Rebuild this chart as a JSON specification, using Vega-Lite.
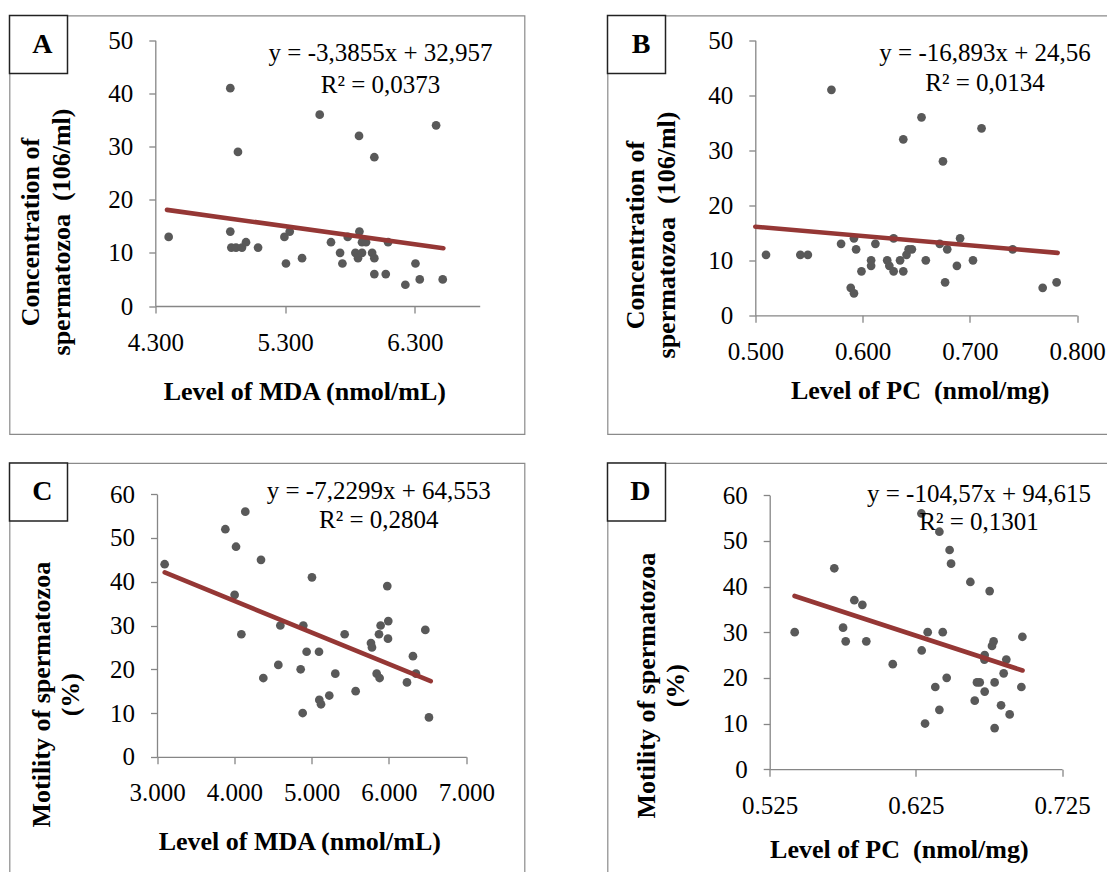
{
  "$schema": "https://vega.github.io/schema/vega-lite/v6.json",
  "padding": {"left": 7.5, "top": 13.5, "right": 0, "bottom": 0},
  "autosize": {"type": "pad"},
  "background": "white",
  "columns": 2,
  "spacing": {"row": 28.5, "column": 83},
  "bounds": "flush",
  "align": "each",
  "resolve": {"scale": {"shape": "independent", "x": "independent", "y": "independent"}, "legend": {"shape": "independent"}},
  "datasets": {
    "A_pts": [
      {"x": 4.403, "y": 13}, {"x": 4.878, "y": 41}, {"x": 4.937, "y": 29}, {"x": 4.878, "y": 14},
      {"x": 4.886, "y": 11}, {"x": 4.922, "y": 11}, {"x": 4.968, "y": 11}, {"x": 4.999, "y": 12},
      {"x": 5.092, "y": 11}, {"x": 5.295, "y": 13}, {"x": 5.307, "y": 8}, {"x": 5.336, "y": 14},
      {"x": 5.431, "y": 9}, {"x": 5.567, "y": 36}, {"x": 5.654, "y": 12}, {"x": 5.724, "y": 10},
      {"x": 5.742, "y": 8}, {"x": 5.783, "y": 13}, {"x": 5.870, "y": 32}, {"x": 5.873, "y": 14},
      {"x": 5.842, "y": 10}, {"x": 5.862, "y": 9}, {"x": 5.893, "y": 10}, {"x": 5.893, "y": 12},
      {"x": 5.924, "y": 12}, {"x": 5.988, "y": 28}, {"x": 5.971, "y": 10}, {"x": 5.988, "y": 9},
      {"x": 5.988, "y": 6}, {"x": 6.094, "y": 12}, {"x": 6.076, "y": 6}, {"x": 6.227, "y": 4},
      {"x": 6.305, "y": 8}, {"x": 6.338, "y": 5}, {"x": 6.464, "y": 34}, {"x": 6.515, "y": 5}
    ],
    "A_line": [{"x": 4.39, "y": 18.09}, {"x": 6.52, "y": 10.88}],
    "A_eq": [{"eq": "y = -3,3855x + 32,957\nR² = 0,0373"}],
    "A_lab": [{"panel": "A"}],
    "B_pts": [
      {"x": 0.510, "y": 11}, {"x": 0.542, "y": 11}, {"x": 0.549, "y": 11}, {"x": 0.571, "y": 41},
      {"x": 0.580, "y": 13}, {"x": 0.592, "y": 14}, {"x": 0.594, "y": 12}, {"x": 0.589, "y": 5},
      {"x": 0.592, "y": 4}, {"x": 0.599, "y": 8}, {"x": 0.608, "y": 10}, {"x": 0.608, "y": 9},
      {"x": 0.612, "y": 13}, {"x": 0.623, "y": 10}, {"x": 0.625, "y": 9}, {"x": 0.629, "y": 8},
      {"x": 0.629, "y": 14}, {"x": 0.635, "y": 10}, {"x": 0.638, "y": 32}, {"x": 0.638, "y": 8},
      {"x": 0.641, "y": 11}, {"x": 0.643, "y": 12}, {"x": 0.646, "y": 12}, {"x": 0.655, "y": 36},
      {"x": 0.659, "y": 10}, {"x": 0.672, "y": 13}, {"x": 0.675, "y": 28}, {"x": 0.677, "y": 6},
      {"x": 0.679, "y": 12}, {"x": 0.688, "y": 9}, {"x": 0.691, "y": 14}, {"x": 0.703, "y": 10},
      {"x": 0.711, "y": 34}, {"x": 0.740, "y": 12}, {"x": 0.768, "y": 5}, {"x": 0.781, "y": 6}
    ],
    "B_line": [{"x": 0.5, "y": 16.11}, {"x": 0.782, "y": 11.35}],
    "B_eq": [{"eq": "y = -16,893x + 24,56\nR² = 0,0134"}],
    "B_lab": [{"panel": "B"}],
    "C_pts": [
      {"x": 3.099, "y": 44}, {"x": 3.884, "y": 52}, {"x": 4.142, "y": 56}, {"x": 4.022, "y": 48},
      {"x": 4.345, "y": 45}, {"x": 4.004, "y": 37}, {"x": 4.091, "y": 28}, {"x": 4.595, "y": 30},
      {"x": 4.569, "y": 21}, {"x": 4.375, "y": 18}, {"x": 4.858, "y": 20}, {"x": 4.892, "y": 30},
      {"x": 4.884, "y": 10}, {"x": 4.935, "y": 24}, {"x": 5.004, "y": 41}, {"x": 5.095, "y": 24},
      {"x": 5.099, "y": 13}, {"x": 5.121, "y": 12}, {"x": 5.228, "y": 14}, {"x": 5.306, "y": 19},
      {"x": 5.427, "y": 28}, {"x": 5.569, "y": 15}, {"x": 5.767, "y": 26}, {"x": 5.780, "y": 25},
      {"x": 5.841, "y": 19}, {"x": 5.879, "y": 18}, {"x": 5.871, "y": 28}, {"x": 5.892, "y": 30},
      {"x": 5.991, "y": 31}, {"x": 5.978, "y": 39}, {"x": 5.987, "y": 27}, {"x": 6.233, "y": 17},
      {"x": 6.310, "y": 23}, {"x": 6.349, "y": 19}, {"x": 6.470, "y": 29}, {"x": 6.517, "y": 9}
    ],
    "C_line": [{"x": 3.1, "y": 42.14}, {"x": 6.54, "y": 17.27}],
    "C_eq": [{"eq": "y = -7,2299x + 64,553\nR² = 0,2804"}],
    "C_lab": [{"panel": "C"}],
    "D_pts": [
      {"x": 0.5421, "y": 30}, {"x": 0.5692, "y": 44}, {"x": 0.5752, "y": 31}, {"x": 0.5770, "y": 28},
      {"x": 0.5829, "y": 37}, {"x": 0.5884, "y": 36}, {"x": 0.5911, "y": 28}, {"x": 0.6092, "y": 23},
      {"x": 0.6288, "y": 56}, {"x": 0.6290, "y": 26}, {"x": 0.6331, "y": 30}, {"x": 0.6313, "y": 10},
      {"x": 0.6383, "y": 18}, {"x": 0.6411, "y": 52}, {"x": 0.6411, "y": 13}, {"x": 0.6434, "y": 30},
      {"x": 0.6461, "y": 20}, {"x": 0.6481, "y": 48}, {"x": 0.6491, "y": 45}, {"x": 0.6623, "y": 41},
      {"x": 0.6653, "y": 15}, {"x": 0.6668, "y": 19}, {"x": 0.6687, "y": 19}, {"x": 0.6721, "y": 25},
      {"x": 0.6719, "y": 24}, {"x": 0.6721, "y": 17}, {"x": 0.6755, "y": 39}, {"x": 0.6771, "y": 27},
      {"x": 0.6782, "y": 28}, {"x": 0.6789, "y": 19}, {"x": 0.6789, "y": 9}, {"x": 0.6833, "y": 14},
      {"x": 0.6851, "y": 21}, {"x": 0.6869, "y": 24}, {"x": 0.6892, "y": 12}, {"x": 0.6972, "y": 18},
      {"x": 0.6979, "y": 29}
    ],
    "D_line": [{"x": 0.542, "y": 37.94}, {"x": 0.698, "y": 21.62}],
    "D_eq": [{"eq": "y = -104,57x + 94,615\nR² = 0,1301"}],
    "D_lab": [{"panel": "D"}]
  },
  "concat": [
    {
      "width": 515, "height": 418.5,
      "view": {"stroke": "#8a8a8a", "strokeWidth": 1.2},
      "layer": [
        {
          "data": {"name": "A_pts"},
          "mark": {"type": "circle", "size": 76, "color": "#595959", "opacity": 1},
          "encoding": {
            "x": {"field": "x", "type": "quantitative", "title": "Level of MDA (nmol/mL)",
              "scale": {"domain": [4.3, 6.8], "range": [145.8, 470.2], "nice": false, "zero": false},
              "axis": {"values": [4.3, 5.3, 6.3], "format": ".3f", "offset": -128, "titleX": 294.8, "titleY": 93.3, "titleBaseline": "alphabetic", "titleAlign": "center"}},
            "y": {"field": "y", "type": "quantitative", "title": ["Concentration of", "spermatozoa\u00a0 (106/ml)"],
              "scale": {"domain": [0, 50], "range": [290.5, 24.8], "nice": false, "zero": false},
              "axis": {"values": [0, 10, 20, 30, 40, 50], "format": "d", "offset": -145.8, "titleX": -117.3, "titleY": 216, "titleBaseline": "alphabetic", "titleAlign": "center", "titleLineHeight": 31}}
          }
        },
        {
          "data": {"name": "A_line"},
          "mark": {"type": "line", "color": "#953735", "strokeWidth": 4.6, "strokeCap": "round"},
          "encoding": {
            "x": {"field": "x", "type": "quantitative", "title": "Level of MDA (nmol/mL)"},
            "y": {"field": "y", "type": "quantitative", "title": ["Concentration of", "spermatozoa\u00a0 (106/ml)"]}
          }
        },
        {
          "data": {"name": "A_eq"},
          "mark": {"type": "text", "align": "center", "baseline": "alphabetic", "lineBreak": "\n", "lineHeight": 31.5, "fontSize": 25, "color": "#000"},
          "encoding": {
            "text": {"field": "eq", "type": "nominal"},
            "x": {"datum": 6.036, "type": "quantitative", "title": "Level of MDA (nmol/mL)"},
            "y": {"datum": 46.05, "type": "quantitative", "title": ["Concentration of", "spermatozoa\u00a0 (106/ml)"]}
          }
        },
        {
          "data": {"name": "A_lab"},
          "mark": {"type": "point", "opacity": 0, "size": 0},
          "encoding": {
            "shape": {"field": "panel", "type": "nominal", "legend": {"orient": "top-left", "offset": 0, "title": null, "padding": 15, "symbolSize": 0, "symbolStrokeWidth": 0, "symbolOpacity": 0, "labelOffset": 0, "labelAlign": "right"}}
          }
        }
      ]
    },
    {
      "width": 500, "height": 418.5,
      "view": {"stroke": "#8a8a8a", "strokeWidth": 1.2, "strokeDash": [500, 418.5, 918.5, 0]},
      "layer": [
        {
          "data": {"name": "B_pts"},
          "mark": {"type": "circle", "size": 76, "color": "#595959", "opacity": 1},
          "encoding": {
            "x": {"field": "x", "type": "quantitative", "title": "Level of PC\u00a0 (nmol/mg)",
              "scale": {"domain": [0.5, 0.8], "range": [147.8, 469.5], "nice": false, "zero": false},
              "axis": {"values": [0.5, 0.6, 0.7, 0.8], "format": ".3f", "offset": -118.7, "titleX": 312.2, "titleY": 83.4, "titleBaseline": "alphabetic", "titleAlign": "center"}},
            "y": {"field": "y", "type": "quantitative", "title": ["Concentration of", "spermatozoa\u00a0 (106/ml)"],
              "scale": {"domain": [0, 50], "range": [299.8, 24.8], "nice": false, "zero": false},
              "axis": {"values": [0, 10, 20, 30, 40, 50], "format": "d", "offset": -147.8, "titleX": -112.3, "titleY": 219, "titleBaseline": "alphabetic", "titleAlign": "center", "titleLineHeight": 31}}
          }
        },
        {
          "data": {"name": "B_line"},
          "mark": {"type": "line", "color": "#953735", "strokeWidth": 4.6, "strokeCap": "round"},
          "encoding": {
            "x": {"field": "x", "type": "quantitative", "title": "Level of PC\u00a0 (nmol/mg)"},
            "y": {"field": "y", "type": "quantitative", "title": ["Concentration of", "spermatozoa\u00a0 (106/ml)"]}
          }
        },
        {
          "data": {"name": "B_eq"},
          "mark": {"type": "text", "align": "center", "baseline": "alphabetic", "lineBreak": "\n", "lineHeight": 29.5, "fontSize": 25, "color": "#000"},
          "encoding": {
            "text": {"field": "eq", "type": "nominal"},
            "x": {"datum": 0.7143, "type": "quantitative", "title": "Level of PC\u00a0 (nmol/mg)"},
            "y": {"datum": 46.15, "type": "quantitative", "title": ["Concentration of", "spermatozoa\u00a0 (106/ml)"]}
          }
        },
        {
          "data": {"name": "B_lab"},
          "mark": {"type": "point", "opacity": 0, "size": 0},
          "encoding": {
            "shape": {"field": "panel", "type": "nominal", "legend": {"orient": "top-left", "offset": 0, "title": null, "padding": 15, "symbolSize": 0, "symbolStrokeWidth": 0, "symbolOpacity": 0, "labelOffset": 0, "labelAlign": "right"}}
          }
        }
      ]
    },
    {
      "width": 515, "height": 410,
      "view": {"stroke": "#8a8a8a", "strokeWidth": 1.2, "strokeDash": [925, 515, 410, 0]},
      "layer": [
        {
          "data": {"name": "C_pts"},
          "mark": {"type": "circle", "size": 76, "color": "#595959", "opacity": 1},
          "encoding": {
            "x": {"field": "x", "type": "quantitative", "title": "Level of MDA (nmol/mL)",
              "scale": {"domain": [3, 7], "range": [147.5, 456.8], "nice": false, "zero": false},
              "axis": {"values": [3, 4, 5, 6, 7], "format": ".3f", "offset": -116.2, "titleX": 289.8, "titleY": 92.4, "titleBaseline": "alphabetic", "titleAlign": "center"}},
            "y": {"field": "y", "type": "quantitative", "title": ["Motility of spermatozoa", "(%)"],
              "scale": {"domain": [0, 60], "range": [293.8, 31.2], "nice": false, "zero": false},
              "axis": {"values": [0, 10, 20, 30, 40, 50, 60], "format": "d", "offset": -147.5, "titleX": -108, "titleY": 231.2, "titleBaseline": "alphabetic", "titleAlign": "center", "titleLineHeight": 29}}
          }
        },
        {
          "data": {"name": "C_line"},
          "mark": {"type": "line", "color": "#953735", "strokeWidth": 4.6, "strokeCap": "round"},
          "encoding": {
            "x": {"field": "x", "type": "quantitative", "title": "Level of MDA (nmol/mL)"},
            "y": {"field": "y", "type": "quantitative", "title": ["Motility of spermatozoa", "(%)"]}
          }
        },
        {
          "data": {"name": "C_eq"},
          "mark": {"type": "text", "align": "center", "baseline": "alphabetic", "lineBreak": "\n", "lineHeight": 29, "fontSize": 25, "color": "#000"},
          "encoding": {
            "text": {"field": "eq", "type": "nominal"},
            "x": {"datum": 5.868, "type": "quantitative", "title": "Level of MDA (nmol/mL)"},
            "y": {"datum": 58.9, "type": "quantitative", "title": ["Motility of spermatozoa", "(%)"]}
          }
        },
        {
          "data": {"name": "C_lab"},
          "mark": {"type": "point", "opacity": 0, "size": 0},
          "encoding": {
            "shape": {"field": "panel", "type": "nominal", "legend": {"orient": "top-left", "offset": 0, "title": null, "padding": 15, "symbolSize": 0, "symbolStrokeWidth": 0, "symbolOpacity": 0, "labelOffset": 0, "labelAlign": "right"}}
          }
        }
      ]
    },
    {
      "width": 500, "height": 410,
      "view": {"stroke": "#8a8a8a", "strokeWidth": 1.2, "strokeDash": [500, 910, 410, 0]},
      "layer": [
        {
          "data": {"name": "D_pts"},
          "mark": {"type": "circle", "size": 76, "color": "#595959", "opacity": 1},
          "encoding": {
            "x": {"field": "x", "type": "quantitative", "title": "Level of PC\u00a0 (nmol/mg)",
              "scale": {"domain": [0.525, 0.725], "range": [162.2, 454.5], "nice": false, "zero": false},
              "axis": {"values": [0.525, 0.625, 0.725], "format": ".3f", "offset": -103.8, "titleX": 291.3, "titleY": 88.3, "titleBaseline": "alphabetic", "titleAlign": "center"}},
            "y": {"field": "y", "type": "quantitative", "title": ["Motility of spermatozoa", "(%)"],
              "scale": {"domain": [0, 60], "range": [306.2, 32.2], "nice": false, "zero": false},
              "axis": {"values": [0, 10, 20, 30, 40, 50, 60], "format": "d", "offset": -162.2, "titleX": -115.7, "titleY": 222.2, "titleBaseline": "alphabetic", "titleAlign": "center", "titleLineHeight": 29}}
          }
        },
        {
          "data": {"name": "D_line"},
          "mark": {"type": "line", "color": "#953735", "strokeWidth": 4.6, "strokeCap": "round"},
          "encoding": {
            "x": {"field": "x", "type": "quantitative", "title": "Level of PC\u00a0 (nmol/mg)"},
            "y": {"field": "y", "type": "quantitative", "title": ["Motility of spermatozoa", "(%)"]}
          }
        },
        {
          "data": {"name": "D_eq"},
          "mark": {"type": "text", "align": "center", "baseline": "alphabetic", "lineBreak": "\n", "lineHeight": 28, "fontSize": 25, "color": "#000"},
          "encoding": {
            "text": {"field": "eq", "type": "nominal"},
            "x": {"datum": 0.6682, "type": "quantitative", "title": "Level of PC\u00a0 (nmol/mg)"},
            "y": {"datum": 58.55, "type": "quantitative", "title": ["Motility of spermatozoa", "(%)"]}
          }
        },
        {
          "data": {"name": "D_lab"},
          "mark": {"type": "point", "opacity": 0, "size": 0},
          "encoding": {
            "shape": {"field": "panel", "type": "nominal", "legend": {"orient": "top-left", "offset": 0, "title": null, "padding": 15, "symbolSize": 0, "symbolStrokeWidth": 0, "symbolOpacity": 0, "labelOffset": 0, "labelAlign": "right"}}
          }
        }
      ]
    }
  ],
  "config": {
    "font": "Liberation Serif",
    "view": {"stroke": "#8a8a8a", "strokeWidth": 1.2},
    "text": {"font": "Liberation Serif"},
    "axis": {
      "grid": false,
      "domainColor": "#868686", "domainWidth": 1.3,
      "tickColor": "#868686", "tickWidth": 1.3,
      "labelFont": "Liberation Serif", "labelFontSize": 25, "labelColor": "#000",
      "labelFlush": false, "labelOverlap": false, "labelBound": false,
      "titleFont": "Liberation Serif", "titleFontSize": 26, "titleFontWeight": "bold", "titleColor": "#000"
    },
    "axisX": {"tickSize": 7, "labelPadding": 17},
    "axisY": {"tickSize": 6.5, "labelPadding": 16},
    "legend": {
      "padding": 15, "strokeColor": "#222", "strokeWidth": 1.5, "fillColor": "#fff",
      "labelFont": "Liberation Serif", "labelFontSize": 28, "labelFontWeight": "bold", "labelColor": "#000",
      "labelOffset": 0, "symbolSize": 0, "symbolOpacity": 0, "symbolStrokeWidth": 0,
      "labelExpr": "'\u00a0' + datum.label + '\u00a0'"
    }
  }
}
